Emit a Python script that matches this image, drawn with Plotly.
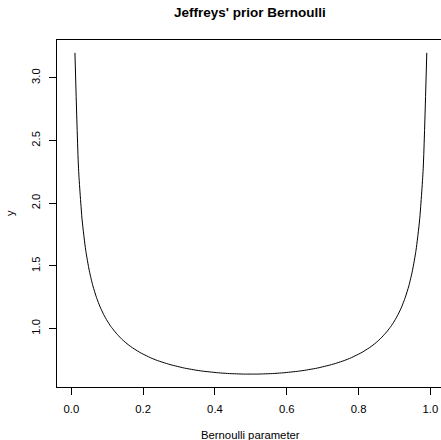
import plotly.graph_objects as go

# Bernoulli parameter values (x) and density values (y)
x_left = [0.01, 0.02, 0.03, 0.04, 0.05, 0.06, 0.07, 0.08, 0.09, 0.10,
          0.11, 0.12, 0.13, 0.14, 0.15, 0.16, 0.17, 0.18, 0.19, 0.20,
          0.21, 0.22, 0.23, 0.24, 0.25, 0.26, 0.27, 0.28, 0.29, 0.30,
          0.31, 0.32, 0.33, 0.34, 0.35, 0.36, 0.37, 0.38, 0.39, 0.40,
          0.41, 0.42, 0.43, 0.44, 0.45, 0.46, 0.47, 0.48, 0.49, 0.50]
y_left = [3.199, 2.274, 1.866, 1.624, 1.461, 1.340, 1.248, 1.173, 1.112, 1.061,
          1.017, 0.980, 0.947, 0.917, 0.891, 0.868, 0.847, 0.829, 0.811, 0.796,
          0.782, 0.768, 0.756, 0.745, 0.735, 0.726, 0.717, 0.709, 0.702, 0.695,
          0.688, 0.682, 0.677, 0.672, 0.667, 0.663, 0.659, 0.656, 0.653, 0.650,
          0.647, 0.645, 0.643, 0.641, 0.640, 0.639, 0.638, 0.637, 0.637, 0.637]
x_right = [0.51, 0.52, 0.53, 0.54, 0.55, 0.56, 0.57, 0.58, 0.59, 0.60,
           0.61, 0.62, 0.63, 0.64, 0.65, 0.66, 0.67, 0.68, 0.69, 0.70,
           0.71, 0.72, 0.73, 0.74, 0.75, 0.76, 0.77, 0.78, 0.79, 0.80,
           0.81, 0.82, 0.83, 0.84, 0.85, 0.86, 0.87, 0.88, 0.89, 0.90,
           0.91, 0.92, 0.93, 0.94, 0.95, 0.96, 0.97, 0.98, 0.99]
y_right = [0.637, 0.637, 0.638, 0.639, 0.640, 0.641, 0.643, 0.645, 0.647, 0.650,
           0.653, 0.656, 0.659, 0.663, 0.667, 0.672, 0.677, 0.682, 0.688, 0.695,
           0.702, 0.709, 0.717, 0.726, 0.735, 0.745, 0.756, 0.768, 0.782, 0.796,
           0.811, 0.829, 0.847, 0.868, 0.891, 0.917, 0.947, 0.980, 1.017, 1.061,
           1.112, 1.173, 1.248, 1.340, 1.461, 1.624, 1.866, 2.274, 3.199]

x_vals = x_left + x_right
y_vals = y_left + y_right

x_ticks = [0.0, 0.2, 0.4, 0.6, 0.8, 1.0]
x_tick_labels = ["0.0", "0.2", "0.4", "0.6", "0.8", "1.0"]
y_ticks = [1.0, 1.5, 2.0, 2.5, 3.0]
y_tick_labels = ["1.0", "1.5", "2.0", "2.5", "3.0"]

FONT = "Liberation Sans, Arial, Helvetica, sans-serif"

fig = go.Figure()
fig.add_trace(go.Scatter(x=x_vals, y=y_vals, mode="lines",
                         line=dict(color="black", width=1, shape="spline", smoothing=0.6),
                         showlegend=False, hoverinfo="skip"))

fig.update_layout(
    width=441, height=440,
    margin=dict(l=57, r=0, t=40, b=53),
    paper_bgcolor="white", plot_bgcolor="white",
    font=dict(family=FONT, size=11.3, color="black"),
    xaxis=dict(range=[-0.04, 1.0296], tickvals=x_ticks, ticktext=x_tick_labels,
               ticks="outside", ticklen=7, tickcolor="black", tickwidth=1,
               showline=True, linecolor="black", linewidth=1, mirror=True,
               showgrid=False, zeroline=False, ticklabelstandoff=4),
    yaxis=dict(range=[0.534, 3.3017], tickvals=y_ticks, ticktext=y_tick_labels,
               ticks="outside", ticklen=7, tickcolor="black", tickwidth=1,
               showline=True, linecolor="black", linewidth=1,
               showgrid=False, zeroline=False, tickangle=-90, ticklabelstandoff=4),
    annotations=[
        dict(text="<b>Jeffreys' prior Bernoulli</b>", xref="paper", yref="paper",
             x=(250 - 57) / 384, y=1 + (40 - 13) / 347, showarrow=False,
             xanchor="center", yanchor="middle", font=dict(size=13.5)),
        dict(text="Bernoulli parameter", xref="paper", yref="paper",
             x=(250 - 57) / 384, y=-(435 - 387) / 347, showarrow=False,
             xanchor="center", yanchor="middle"),
        dict(text="y", xref="paper", yref="paper",
             x=-(57 - 10) / 384, y=(387 - 213) / 347, showarrow=False,
             xanchor="center", yanchor="middle", textangle=-90),
    ],
)

fig.write_html("out.html", config={"displayModeBar": False},
               post_script="document.body.style.margin='0';document.body.style.padding='0';")
